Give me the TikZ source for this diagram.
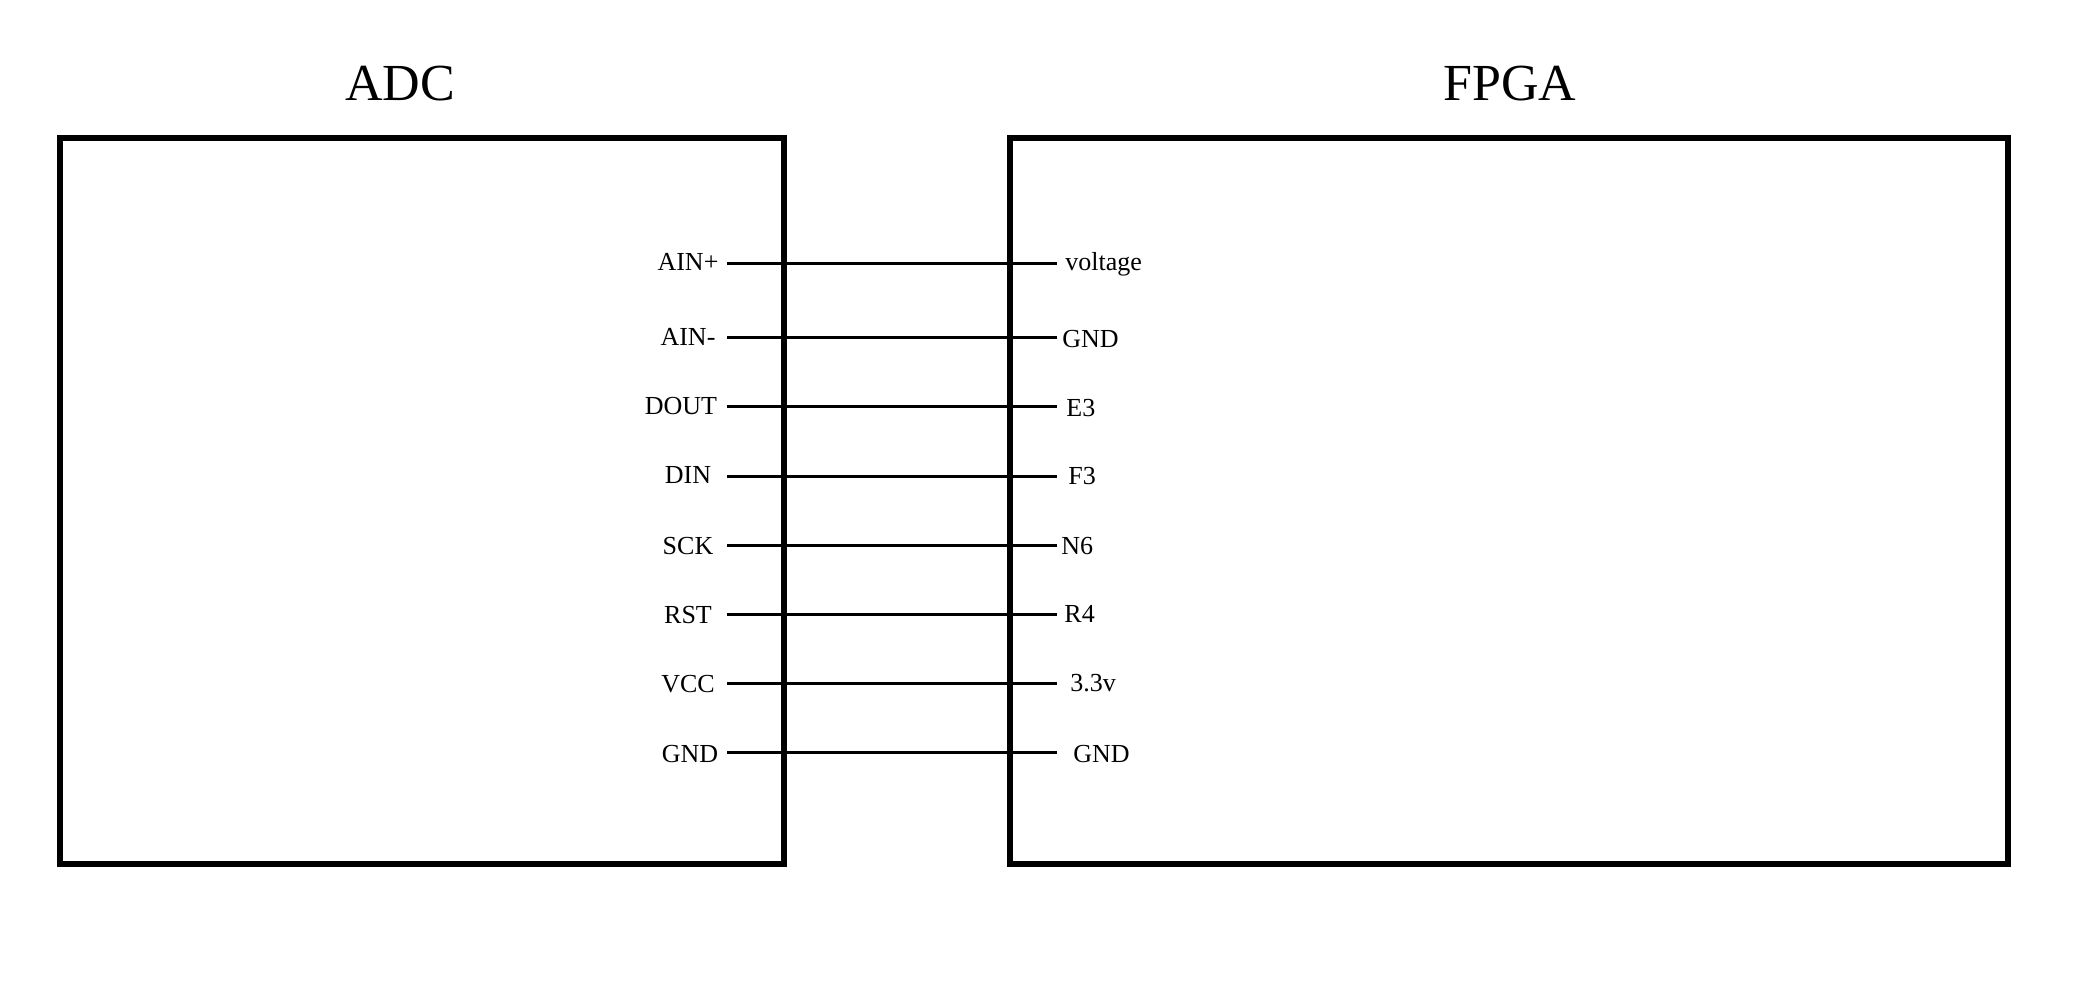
\documentclass[tikz,border=0pt]{standalone}
\usepackage{fontspec}
\setmainfont{Liberation Serif}

\begin{document}
\begin{tikzpicture}[
    chip/.style = {draw, line width = 1.7pt, inner sep = 0pt},
    title/.style = {anchor = base, font = \fontsize{14.8}{18}\selectfont},
    pin/.style = {font = \fontsize{7.4}{9}\selectfont},
    fpin/.style = {pin, anchor = west},
    wire/.style = {line width = 0.85pt}
]
            \useasboundingbox (0, 0) rectangle (21, 10);

            % the two chips
            \node[chip, minimum width = 7.24cm, minimum height = 7.26cm] (adc) at (4.22, 4.99){};
            \node[chip, minimum width = 9.98cm, minimum height = 7.26cm] (fpga) at (15.09, 4.99){};

            \node[title] (adcname) at (4.00, 8.99){ADC};
            \node[title] (fpganame) at (15.10, 8.99){FPGA};

            % adc side
            \node[pin] (ainp) at (6.88, 7.38){AIN+};
            \node[pin] (ainn) at (6.88, 6.63){AIN-};
            \node[pin] (dout) at (6.81, 5.94){DOUT};
            \node[pin] (din) at (6.88, 5.25){DIN};
            \node[pin] (sck) at (6.88, 4.54){SCK};
            \node[pin] (rst) at (6.88, 3.85){RST};
            \node[pin] (vcc) at (6.88, 3.16){VCC};
            \node[pin] (agnd) at (6.90, 2.46){GND};

            % fpga side
            \node[fpin] (volt) at (10.53, 7.36){voltage};
            \node[fpin] (fgnda) at (10.50, 6.61){GND};
            \node[fpin] (ethree) at (10.54, 5.92){E3};
            \node[fpin] (fthree) at (10.56, 5.235){F3};
            \node[fpin] (nsix) at (10.49, 4.54){N6};
            \node[fpin] (rfour) at (10.52, 3.86){R4};
            \node[fpin] (vthree) at (10.58, 3.17){3.3v};
            \node[fpin] (fgndb) at (10.61, 2.46){GND};

            % wire ends
            \coordinate (ainp-a) at (7.27, 7.36);
            \coordinate (ainp-b) at (10.57, 7.36);
            \coordinate (ainn-a) at (7.27, 6.62);
            \coordinate (ainn-b) at (10.57, 6.62);
            \coordinate (dout-a) at (7.27, 5.93);
            \coordinate (dout-b) at (10.57, 5.93);
            \coordinate (din-a) at (7.27, 5.235);
            \coordinate (din-b) at (10.57, 5.235);
            \coordinate (sck-a) at (7.27, 4.54);
            \coordinate (sck-b) at (10.57, 4.54);
            \coordinate (rst-a) at (7.27, 3.85);
            \coordinate (rst-b) at (10.57, 3.85);
            \coordinate (vcc-a) at (7.27, 3.16);
            \coordinate (vcc-b) at (10.57, 3.16);
            \coordinate (gnd-a) at (7.27, 2.47);
            \coordinate (gnd-b) at (10.57, 2.47);

            \draw[wire] (ainp-a) -- (ainp-b);
            \draw[wire] (ainn-a) -- (ainn-b);
            \draw[wire] (dout-a) -- (dout-b);
            \draw[wire] (din-a) -- (din-b);
            \draw[wire] (sck-a) -- (sck-b);
            \draw[wire] (rst-a) -- (rst-b);
            \draw[wire] (vcc-a) -- (vcc-b);
            \draw[wire] (gnd-a) -- (gnd-b);
\end{tikzpicture}
\end{document}
